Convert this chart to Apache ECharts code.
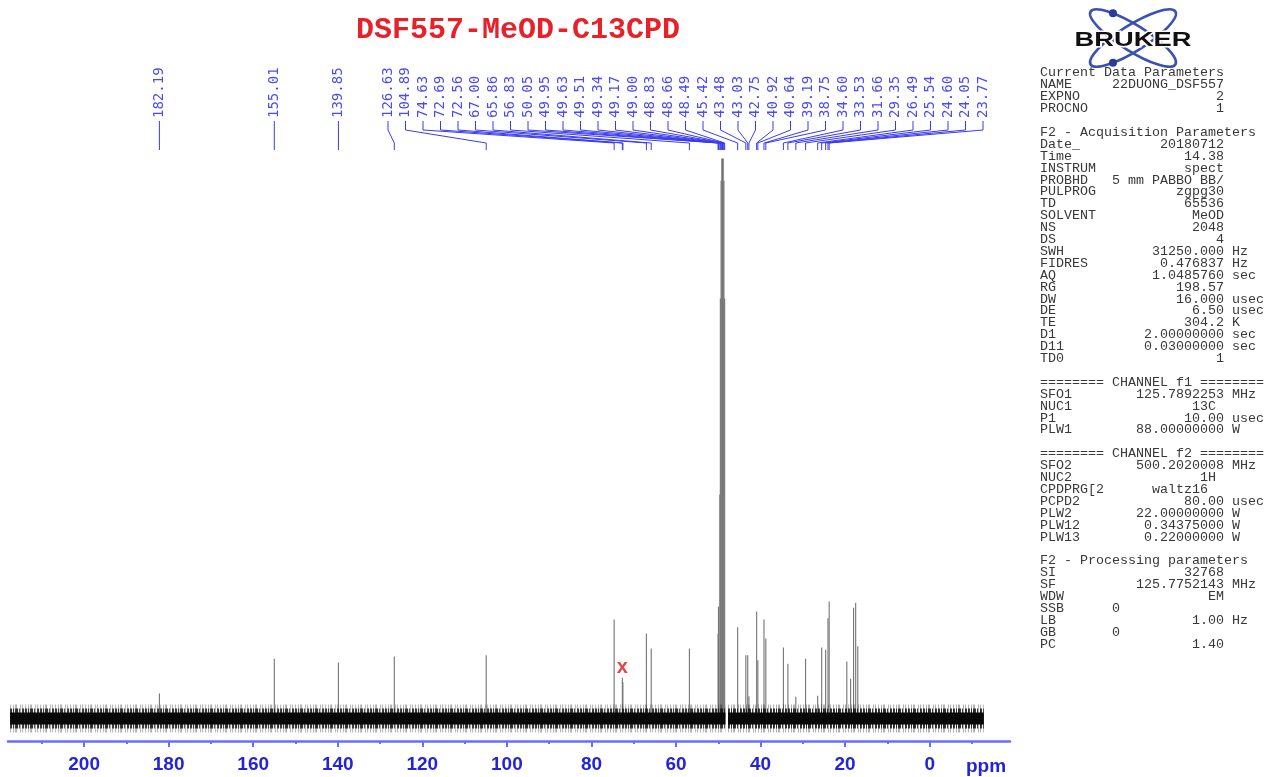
<!DOCTYPE html>
<html>
<head>
<meta charset="utf-8">
<script src="https://cdn.jsdelivr.net/npm/echarts@6/dist/echarts.min.js"></script>
<style>
html,body{margin:0;padding:0;background:#fff;}
#c{width:1267px;height:777px;}
</style>
</head>
<body>
<div id="c"></div>
<script>
// ---------- data ----------
const titleText = 'DSF557-MeOD-C13CPD';
// picked peak labels (ppm), as printed along the top
const labelPpm = [182.19,155.01,139.85,126.63,104.89,74.63,72.69,72.56,67.00,65.86,56.83,
  50.05,49.95,49.63,49.51,49.34,49.17,49.00,48.83,48.66,48.49,45.42,43.48,43.03,42.75,
  40.92,40.64,39.19,38.75,34.60,33.53,31.66,29.35,26.49,25.54,24.60,24.05,23.77];
// spectrum lines: position (ppm) and intensity (solvent = 100)
const peakPpm = [182.19,155.01,139.85,126.63,104.89,74.63,72.69,72.56,67.00,65.86,56.83,
  50.05,49.95,49.63,49.51,49.34,49.17,49.00,48.83,48.66,48.49,45.42,43.48,43.03,42.75,
  40.92,40.64,39.19,38.75,34.60,33.53,31.66,29.35,26.49,25.54,24.60,24.05,23.77,
  19.6,18.7,18.0,17.5,17.0];
const peakInt = [4.5,10.7,10.0,11.1,11.3,17.7,7.3,6.5,15.2,12.5,12.5,
  15.2,20,40,75,96,100,100,100,96,75,16.3,11.3,11.3,4.0,
  19.1,10.4,17.7,14.3,12.7,9.8,3.9,10.7,4.1,12.7,12.3,17.9,20.9,
  10.2,7.1,19.8,20.7,12.9];
const impurityPpm = [72.69];            // peak marked with a red "x"
const noiseSegments = [[217.5,48.3],[47.7,-12.8]];  // baseline noise extent (ppm)
const majorTicks = [200,180,160,140,120,100,80,60,40,20,0];
const minorTicks = [210,190,170,150,130,110,90,70,50,30,10,-10];
const logoText = 'BRUKER';
const paramRows = [
  ['Current Data Parameters'],
  ['NAME','22DUONG_DSF557'],
  ['EXPNO','2'],
  ['PROCNO','1'],
  [],
  ['F2 - Acquisition Parameters'],
  ['Date_','20180712'],
  ['Time','14.38'],
  ['INSTRUM','spect'],
  ['PROBHD','5 mm PABBO BB/'],
  ['PULPROG','zgpg30'],
  ['TD','65536'],
  ['SOLVENT','MeOD'],
  ['NS','2048'],
  ['DS','4'],
  ['SWH','31250.000','Hz'],
  ['FIDRES','0.476837','Hz'],
  ['AQ','1.0485760','sec'],
  ['RG','198.57'],
  ['DW','16.000','usec'],
  ['DE','6.50','usec'],
  ['TE','304.2','K'],
  ['D1','2.00000000','sec'],
  ['D11','0.03000000','sec'],
  ['TD0','1'],
  [],
  ['======== CHANNEL f1 ========'],
  ['SFO1','125.7892253','MHz'],
  ['NUC1','13C','',22],
  ['P1','10.00','usec'],
  ['PLW1','88.00000000','W'],
  [],
  ['======== CHANNEL f2 ========'],
  ['SFO2','500.2020008','MHz'],
  ['NUC2','1H','',22],
  ['CPDPRG[2','waltz16','',21],
  ['PCPD2','80.00','usec'],
  ['PLW2','22.00000000','W'],
  ['PLW12','0.34375000','W'],
  ['PLW13','0.22000000','W'],
  [],
  ['F2 - Processing parameters'],
  ['SI','32768'],
  ['SF','125.7752143','MHz'],
  ['WDW','EM'],
  ['SSB','0','',10],
  ['LB','1.00','Hz'],
  ['GB','0','',10],
  ['PC','1.40']
];

// ---------- helpers ----------
function fmtRow(r){
  if (r.length === 0) return '';
  if (r.length === 1) return r[0];
  const end = r[3] || 23;
  const pad = Math.max(1, end - r[0].length - r[1].length);
  let s = r[0] + ' '.repeat(pad) + r[1];
  if (r[2]) s += ' ' + r[2];
  return s;
}
const BLUE_AX = '#6b6bff';
const BLUE_TX = '#2323d8';
const BLUE_LB = '#4a4af2';

const chart = echarts.init(document.getElementById('c'), null, {renderer:'canvas'});

const noiseSeries = [];
noiseSegments.forEach(seg => {
  const d = [[seg[0],0],[seg[1],0]];
  noiseSeries.push({type:'line', data:d, symbol:'none', silent:true, z:5,
    lineStyle:{color:'rgba(0,0,0,0.3)', width:28, cap:'butt', type:[1,2,1,1,2,3,1,1,1,2]}});
  noiseSeries.push({type:'line', data:d, symbol:'none', silent:true, z:6,
    lineStyle:{color:'rgba(8,8,8,0.8)', width:20, cap:'butt', type:[2,1,1,1,3,1,1,2,2,1]}});
  noiseSeries.push({type:'line', data:d, symbol:'none', silent:true, z:7,
    lineStyle:{color:'#080808', width:12, cap:'butt'}});
});

const option = {
  animation:false,
  backgroundColor:'#ffffff',
  title:{text:titleText, left:351, top:10,
    textStyle:{fontFamily:'"Liberation Mono", monospace', fontWeight:'bold', fontSize:30, color:'#e62129'}},
  grid:{left:8, right:257, top:136, bottom:36, containLabel:false},
  xAxis:[{
    type:'value', min:-19, max:218, inverse:true, position:'bottom',
    axisLine:{show:true, onZero:false, lineStyle:{color:BLUE_AX, width:2.5}},
    axisTick:{show:true, customValues:majorTicks, length:6, lineStyle:{color:BLUE_AX, width:2}},
    axisLabel:{show:true, customValues:majorTicks, margin:14, color:BLUE_TX,
      fontFamily:'"Liberation Sans Narrow","Liberation Sans",Arial,sans-serif', fontWeight:'bold', fontSize:19},
    splitLine:{show:false}
  },{
    type:'value', min:-19, max:218, inverse:true, position:'bottom', offset:0,
    axisLine:{show:false, onZero:false},
    axisTick:{show:true, customValues:minorTicks, length:3, lineStyle:{color:BLUE_AX, width:2}},
    axisLabel:{show:false},
    splitLine:{show:false}
  }],
  yAxis:{type:'value', min:-4, max:104, show:false},
  series:[
    {type:'custom', z:3, silent:true,
      data: peakPpm.map((p,i)=>[p, peakInt[i]]),
      renderItem:function(params, api){
        const a = api.coord([api.value(0), 0]);
        const b = api.coord([api.value(0), api.value(1)]);
        return {type:'line', shape:{x1:a[0], y1:a[1], x2:b[0], y2:b[1]},
          style:{stroke:'#737373', lineWidth:1.1}};
      }},
    ...noiseSeries,
    {type:'scatter', z:9, silent:true, symbol:'circle', symbolSize:1,
      itemStyle:{color:'rgba(0,0,0,0)'},
      data: impurityPpm.map(p => [p, peakInt[peakPpm.indexOf(p)]]),
      label:{show:true, position:'top', distance:0, formatter:'x', color:'#e2141c',
        fontFamily:'"Liberation Sans",Arial,sans-serif', fontWeight:'bold', fontSize:20}}
  ]
};
chart.setOption(option);

// ---------- overlay graphics (positions from the axis scale) ----------
const g = [];
const toX = p => chart.convertToPixel({xAxisIndex:0}, p);
const LABEL_START = 388, LABEL_STEP = 17.5;
labelPpm.forEach((p, i) => {
  const px = toX(p);
  const lx = i < 3 ? px : LABEL_START + (i - 3) * LABEL_STEP;
  g.push({type:'text', x:lx, y:118, rotation:Math.PI/2, silent:true,
    style:{text:p.toFixed(2), fill:BLUE_LB, font:'14px "DejaVu Sans Mono", monospace',
      align:'left', verticalAlign:'middle'}});
  g.push({type:'polyline', silent:true,
    shape:{points:[[lx,121],[lx,130],[px,143],[px,150]]},
    style:{stroke:'#3a3af0', lineWidth:1, fill:null}});
});
// ppm unit label
g.push({type:'text', x:966, y:757, silent:true,
  style:{text:'ppm', fill:BLUE_TX, font:'bold 19px "Liberation Sans Narrow","Liberation Sans",Arial,sans-serif'}});
// parameter panel
g.push({type:'text', x:1040, y:67, silent:true,
  style:{text:paramRows.map(fmtRow).join('\n'), fill:'#383838',
    font:'13.33px "Liberation Mono", monospace', lineHeight:11.9, verticalAlign:'top', align:'left'}});
// Bruker logo: two tilted orbits, two electrons, wordmark
const LC = [1133, 38], LA = 50, LB = 13, TH = 32 * Math.PI / 180;
[TH, -TH].forEach(t => {
  g.push({type:'ellipse', x:LC[0], y:LC[1], rotation:t, silent:true,
    shape:{cx:0, cy:0, rx:LA, ry:LB}, style:{stroke:'#3b4fb5', lineWidth:2.6, fill:null}});
});
function orbitPoint(rot, targetX, top){
  let best = null;
  for (let k = 0; k < 720; k++){
    const t = k * Math.PI / 360;
    const ex = LA * Math.cos(t), ey = LB * Math.sin(t);
    const x = ex * Math.cos(rot) + ey * Math.sin(rot);
    const y = -ex * Math.sin(rot) + ey * Math.cos(rot);
    if ((top && y < 0) || (!top && y > 0)){
      const d = Math.abs(x - targetX);
      if (!best || d < best.d) best = {d, x, y};
    }
  }
  return best;
}
const pTop = orbitPoint(-TH, -20, true), pBot = orbitPoint(TH, -20, false);
g.push({type:'circle', silent:true, z:10, shape:{cx:LC[0]+pTop.x, cy:LC[1]+pTop.y, r:4}, style:{fill:'#2a3c9a'}});
g.push({type:'circle', silent:true, z:10, shape:{cx:LC[0]+pBot.x, cy:LC[1]+pBot.y, r:4}, style:{fill:'#2a3c9a'}});
g.push({type:'text', silent:true, z:11, x:LC[0], y:LC[1] + 2, scaleX:1.3, scaleY:1,
  style:{text:logoText, fill:'#111', stroke:'#fff', lineWidth:3,
    font:'bold 21px "Liberation Sans",Arial,sans-serif', align:'center', verticalAlign:'middle'}});
chart.setOption({graphic:{elements:g}});
</script>
</body>
</html>
